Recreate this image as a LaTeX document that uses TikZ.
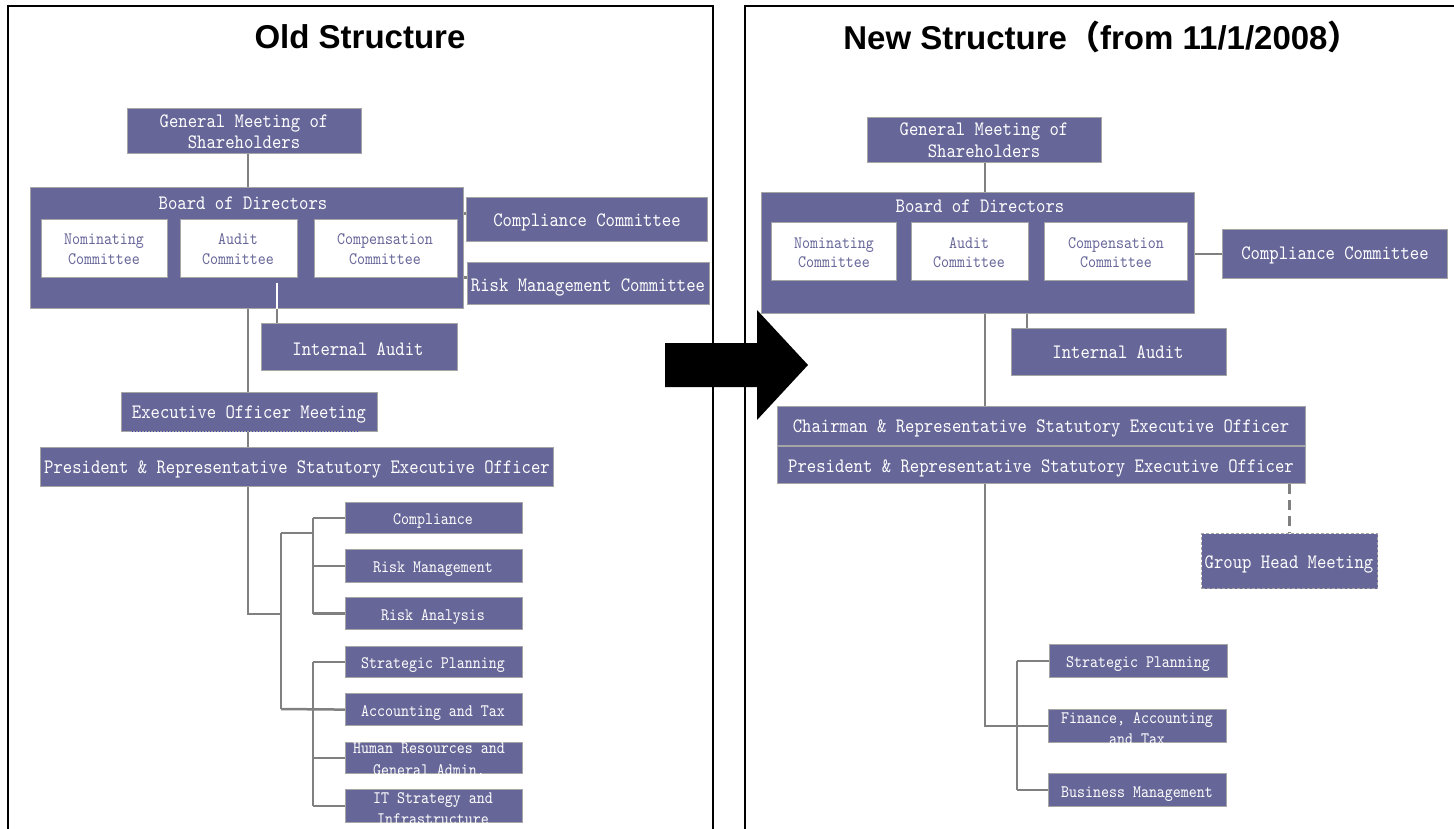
\documentclass[tikz,border=0pt]{standalone}
\usepackage{fontspec}
\setmainfont{Liberation Sans}
\newfontfamily\boxfont{lmmono10-regular.otf}[FakeStretch=0.87]
\newfontfamily\cjk{Noto Sans CJK SC}
\definecolor{boxc}{RGB}{102,102,153}
\definecolor{bordc}{RGB}{165,165,165}
\definecolor{linec}{RGB}{128,128,128}
\definecolor{dotc}{RGB}{70,70,170}
\tikzset{
  box/.style={rectangle,draw=bordc,fill=boxc,line width=1.2pt,inner sep=0pt},
  wbox/.style={box,fill=white},
  dbox/.style={box,dash pattern=on 3pt off 2pt},
  big/.style={font=\boxfont\fontsize{20.5}{22}\selectfont,text=white,inner sep=0pt,anchor=base},
  small/.style={font=\boxfont\fontsize{17.5}{20}\selectfont,text=white,inner sep=0pt,anchor=base},
  wsmall/.style={small,text=boxc},
  conn/.style={draw=linec,line width=2.5pt},
  wconn/.style={draw=white,line width=2.5pt},
  dconn/.style={conn,dash pattern=on 10pt off 6pt},
  frame/.style={draw=black,line width=2pt},
  ttl/.style={font=\bfseries\fontsize{33}{36}\selectfont,inner sep=0pt,anchor=base},
}
\newcommand\bx[6][box]{\node[#1,anchor=north west,minimum width={#4-#2},minimum height={#5-#3}] (#6) at (#2,#3) {};}
\begin{document}
\begin{tikzpicture}[x=1pt,y=-1pt]
\useasboundingbox (0,0) rectangle (1454,829);
% frames
\draw[frame] (8,829) -- (8,6) -- (713,6) -- (713,829);
\draw[frame] (745,829) -- (745,6) -- (1454,6);
% arrow
\fill[black] (665,343) -- (757,343) -- (757,310) -- (808,365) -- (757,420) -- (757,387) -- (665,387) -- cycle;
% titles
\node[ttl] (tL) at (360,49) {Old Structure};
\node[ttl] (tR) at (1102,50) {New Structure{\cjk （}from 11/1/2008{\cjk ）}};

% ================= LEFT =================
\coordinate (spL) at (248,0);
\coordinate (auL) at (277,283);
\bx{127}{108}{361}{153}{GMSL}
\bx{30}{187}{463}{308}{BoardL}
\bx[wbox]{41}{219}{167}{277}{NomL}
\bx[wbox]{180}{219}{297}{277}{AudL}
\bx[wbox]{314}{219}{457}{277}{CompL}
\bx{466}{197}{707}{241}{CCL}
\bx{467}{262}{709}{304}{RMCL}
\bx{261}{323}{457}{370}{IAL}
\bx{121}{392}{377}{431}{EOML}
\bx{40}{447}{553}{486}{PresL}
\bx{345}{502}{522}{533}{CmpL}
\bx{345}{549}{522}{582}{RML}
\bx{345}{597}{522}{629}{RAL}
\bx{345}{646}{522}{677}{SPL}
\bx{345}{693}{522}{725}{ATL}
\bx{345}{742}{522}{773}{HRL}
\bx{345}{789}{522}{822}{ITL}
\draw[dotc,line width=1pt,dotted] (132,431.5) -- (359,431.5);

\coordinate (ccLa) at ([yshift=6pt]CCL.west);
\coordinate (rmLa) at ([yshift=6pt]RMCL.west);
\coordinate (jL0) at (281,614);
\coordinate (jL1) at (281,533);
\coordinate (jL2) at (281,709);
\coordinate (vL) at (313,0);
\draw[conn] (spL |- GMSL.south) -- (spL |- BoardL.north);
\draw[conn] (BoardL.east |- ccLa) -- (ccLa);
\draw[conn] (BoardL.east |- rmLa) -- (rmLa);
\draw[wconn] (auL) -- (auL |- BoardL.south);
\draw[conn] (auL |- BoardL.south) -- (auL |- IAL.north);
\draw[conn] (spL |- BoardL.south) -- (spL |- EOML.north);
\draw[conn] (spL |- EOML.south) -- (spL |- PresL.north);
\draw[conn] (spL |- PresL.south) -- (spL |- jL0) -- (jL0);
\draw[conn] (jL1) -- (jL2);
\draw[conn] (jL1) -- (vL |- jL1);
\draw[conn] (jL2) -- (ATL.west);
\draw[conn] (vL |- CmpL.west) -- (vL |- RAL.west);
\draw[conn] (vL |- CmpL.west) -- (CmpL.west);
\draw[conn] (vL |- RML.west) -- (RML.west);
\draw[conn] (vL |- RAL.west) -- (RAL.west);
\draw[conn] (vL |- SPL.west) -- (vL |- ITL.west);
\draw[conn] (vL |- SPL.west) -- (SPL.west);
\draw[conn] (vL |- HRL.west) -- (HRL.west);
\draw[conn] (vL |- ITL.west) -- (ITL.west);

\node[big] (xGMSL1) at (244,128) {General Meeting of};
\node[big] (xGMSL2) at (244,149) {Shareholders};
\node[big] (xBoardL) at (243,210) {Board of Directors};
\node[wsmall] (xNomL1) at (104,245) {Nominating};
\node[wsmall] (xNomL2) at (104,265) {Committee};
\node[wsmall] (xAudL1) at (238,245) {Audit};
\node[wsmall] (xAudL2) at (238,265) {Committee};
\node[wsmall] (xCompL1) at (385,245) {Compensation};
\node[wsmall] (xCompL2) at (385,265) {Committee};
\node[big] (xCCL) at (587,227) {Compliance Committee};
\node[big] (xRMCL) at (588,291) {Risk Management Committee};
\node[big] (xIAL) at (358,355) {Internal Audit};
\node[big] (xEOML) at (249,418) {Executive Officer Meeting};
\node[big] (xPresL) at (297,473) {President \& Representative Statutory Executive Officer};
\node[small] (xCmpL) at (433,524.5) {Compliance};
\node[small] (xRML) at (433,572.5) {Risk Management};
\node[small] (xRAL) at (433,620) {Risk Analysis};
\node[small] (xSPL) at (433,668.5) {Strategic Planning};
\node[small] (xATL) at (433,716) {Accounting and Tax};
\node[small] (xHRL1) at (429,753) {Human Resources and};
\node[small] (xHRL2) at (429,775) {General Admin.};
\node[small] (xITL1) at (433,803) {IT Strategy and};
\node[small] (xITL2) at (433,824) {Infrastructure};

% ================= RIGHT =================
\coordinate (spR) at (985,0);
\coordinate (iaR) at (1027,0);
\coordinate (vR) at (1017,0);
\bx{867}{117}{1101}{162}{GMSR}
\bx{761}{192}{1194}{313}{BoardR}
\bx[wbox]{771}{222}{896}{280}{NomR}
\bx[wbox]{911}{222}{1028}{280}{AudR}
\bx[wbox]{1044}{222}{1187}{280}{CompR}
\bx{1222}{229}{1447}{278}{CCR}
\bx{1011}{328}{1226}{375}{IAR}
\bx{777}{406}{1305}{445}{ChairR}
\bx{777}{446}{1305}{483}{PresR}
\bx[dbox]{1201}{533}{1377}{588}{GHR}
\bx{1049}{644}{1227}{677}{SPR}
\bx{1048}{709}{1226}{742}{FinR}
\bx{1048}{773}{1226}{806}{BMR}

\draw[conn] (spR |- GMSR.south) -- (spR |- BoardR.north);
\draw[conn] (BoardR.east |- CCR.west) -- (CCR.west);
\draw[conn] (iaR |- BoardR.south) -- (iaR |- IAR.north);
\draw[conn] (spR |- BoardR.south) -- (spR |- ChairR.north);
\draw[dconn] (GHR.north |- PresR.south) -- (GHR.north);
\draw[conn] (spR |- PresR.south) -- (spR |- FinR.west) -- (FinR.west);
\draw[conn] (vR |- SPR.west) -- (vR |- BMR.west);
\draw[conn] (vR |- SPR.west) -- (SPR.west);
\draw[conn] (vR |- BMR.west) -- (BMR.west);

\node[big] (xGMSR1) at (984,136) {General Meeting of};
\node[big] (xGMSR2) at (984,158) {Shareholders};
\node[big] (xBoardR) at (980,213) {Board of Directors};
\node[wsmall] (xNomR1) at (834,248) {Nominating};
\node[wsmall] (xNomR2) at (834,267) {Committee};
\node[wsmall] (xAudR1) at (969,248) {Audit};
\node[wsmall] (xAudR2) at (969,267) {Committee};
\node[wsmall] (xCompR1) at (1116,248) {Compensation};
\node[wsmall] (xCompR2) at (1116,267) {Committee};
\node[big] (xCCR) at (1335,260) {Compliance Committee};
\node[big] (xIAR) at (1118,358) {Internal Audit};
\node[big] (xChairR) at (1041,432) {Chairman \& Representative Statutory Executive Officer};
\node[big] (xPresR) at (1041,472) {President \& Representative Statutory Executive Officer};
\node[big] (xGHR) at (1289,568) {Group Head Meeting};
\node[small] (xSPR) at (1138,667) {Strategic Planning};
\node[small] (xFinR1) at (1137,723) {Finance, Accounting};
\node[small] (xFinR2) at (1137,744) {and Tax};
\node[small] (xBMR) at (1137,797) {Business Management};
\end{tikzpicture}
\end{document}
